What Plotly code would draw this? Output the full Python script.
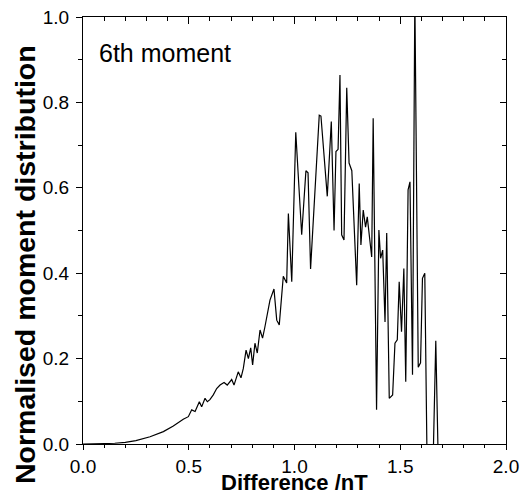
import plotly.graph_objects as go

diff_nT = [0.0, 0.05, 0.1, 0.15, 0.2, 0.25, 0.317, 0.38, 0.427, 0.474, 0.498,
           0.514, 0.53, 0.55, 0.561, 0.577, 0.588, 0.6, 0.616, 0.632, 0.648,
           0.667, 0.682, 0.703, 0.714, 0.734, 0.747, 0.758, 0.771, 0.782, 0.793,
           0.802, 0.813, 0.824, 0.837, 0.849, 0.86, 0.868, 0.884, 0.903, 0.916,
           0.928, 0.947, 0.963, 0.971, 0.987, 1.006, 1.034, 1.054, 1.064, 1.076,
           1.117, 1.125, 1.155, 1.174, 1.187, 1.196, 1.206, 1.215, 1.223, 1.234,
           1.247, 1.258, 1.271, 1.294, 1.306, 1.314, 1.325, 1.336, 1.344, 1.365,
           1.372, 1.388, 1.399, 1.407, 1.417, 1.428, 1.436, 1.448, 1.464, 1.475,
           1.486, 1.495, 1.506, 1.517, 1.526, 1.537, 1.546, 1.558, 1.569, 1.585,
           1.596, 1.605, 1.616, 1.627, 1.655, 1.668, 1.680]
moment = [0.0, 0.0001, 0.0005, 0.0017, 0.004, 0.008, 0.017, 0.029, 0.042, 0.058, 0.064,
          0.080, 0.076, 0.099, 0.087, 0.107, 0.099, 0.104, 0.115, 0.130, 0.138,
          0.144, 0.138, 0.151, 0.138, 0.169, 0.155, 0.177, 0.22, 0.20, 0.225,
          0.185, 0.236, 0.213, 0.267, 0.248, 0.274, 0.297, 0.337, 0.363, 0.29,
          0.279, 0.393, 0.377, 0.54, 0.38, 0.73, 0.49, 0.64, 0.635, 0.41,
          0.77, 0.768, 0.58, 0.755, 0.50, 0.685, 0.69, 0.864, 0.49, 0.478,
          0.834, 0.658, 0.64, 0.372, 0.61, 0.466, 0.548, 0.508, 0.532, 0.438,
          0.763, 0.08, 0.501, 0.435, 0.454, 0.286, 0.494, 0.107, 0.115, 0.236,
          0.244, 0.38, 0.263, 0.411, 0.146, 0.595, 0.614, 0.162, 1.05, 0.18,
          0.19, 0.388, 0.40, -0.05, -0.05, 0.242, -0.05]

x_ticks = [0.0, 0.5, 1.0, 1.5, 2.0]
x_ticklabels = ["0.0", "0.5", "1.0", "1.5", "2.0"]
y_ticks = [0.0, 0.2, 0.4, 0.6, 0.8, 1.0]
y_ticklabels = ["0.0", "0.2", "0.4", "0.6", "0.8", "1.0"]

FONT = "Liberation Sans, Arial, sans-serif"
W, H = 526, 494
ML, MR, MT, MB = 83, 20, 17, 50

fig = go.Figure()
fig.add_trace(go.Scatter(x=diff_nT, y=moment, mode="lines",
                         line=dict(color="black", width=1.2),
                         showlegend=False, hoverinfo="skip"))
# helper trace for mirrored inside ticks
fig.add_trace(go.Scatter(x=diff_nT, y=moment, mode="lines",
                         line=dict(color="rgba(0,0,0,0)", width=0),
                         xaxis="x2", yaxis="y2",
                         showlegend=False, hoverinfo="skip"))

ph = H - MT - MB
pw = W - ML - MR

fig.update_layout(
    width=W, height=H,
    margin=dict(l=ML, r=MR, t=MT, b=MB, autoexpand=False),
    plot_bgcolor="white", paper_bgcolor="white",
    font=dict(family=FONT, color="black", size=19),
    xaxis=dict(range=[0, 2], tickvals=x_ticks, ticktext=x_ticklabels,
               showline=True, linecolor="black", linewidth=1.2, mirror=True,
               ticks="outside", ticklen=5, tickwidth=1.2, tickcolor="black",
               minor=dict(dtick=0.1, ticks="outside", ticklen=3, tickwidth=1, tickcolor="black"),
               showgrid=False, zeroline=False, automargin=False,
               tickfont=dict(size=19, family=FONT)),
    yaxis=dict(range=[0, 1], tickvals=y_ticks, ticktext=y_ticklabels,
               showline=True, linecolor="black", linewidth=1.2, mirror=True,
               ticks="outside", ticklen=6, tickwidth=1.2, tickcolor="black",
               minor=dict(dtick=0.1, ticks="outside", ticklen=4, tickwidth=1, tickcolor="black"),
               showgrid=False, zeroline=False, ticklabelstandoff=3, automargin=False,
               tickfont=dict(size=19, family=FONT)),
    xaxis2=dict(range=[0, 2], overlaying="x", side="top", anchor="y2",
                tickvals=x_ticks, showticklabels=False, ticks="inside", ticklen=7,
                tickwidth=1.2, tickcolor="black", automargin=False,
                minor=dict(dtick=0.1, ticks="inside", ticklen=4, tickwidth=1, tickcolor="black"),
                showgrid=False, zeroline=False, showline=False),
    yaxis2=dict(range=[0, 1], overlaying="y", side="right", anchor="x2",
                tickvals=y_ticks, showticklabels=False, ticks="inside", ticklen=6,
                tickwidth=1.2, tickcolor="black", automargin=False,
                minor=dict(dtick=0.1, ticks="inside", ticklen=4, tickwidth=1, tickcolor="black"),
                showgrid=False, zeroline=False, showline=False),
    annotations=[
        dict(x=0.066, y=0.916, xref="x", yref="y", text="6th moment",
             showarrow=False, xanchor="left", yanchor="middle",
             font=dict(size=25, family=FONT, color="black")),
        dict(x=0.5, y=-(482 - (H - MB)) / ph, xref="x domain", yref="y domain",
             text="<b>Difference /nT</b>", showarrow=False, borderpad=0,
             xanchor="center", yanchor="middle",
             font=dict(size=22, family=FONT, color="black")),
        dict(x=-(ML - 25) / pw, y=(H - MB - 265) / ph,
             xref="x domain", yref="y domain",
             text="<b>Normalised moment distribution</b>", showarrow=False,
             textangle=-90, xanchor="center", yanchor="middle",
             font=dict(size=28.5, family=FONT, color="black")),
    ],
)

fig.write_html("out.html")
